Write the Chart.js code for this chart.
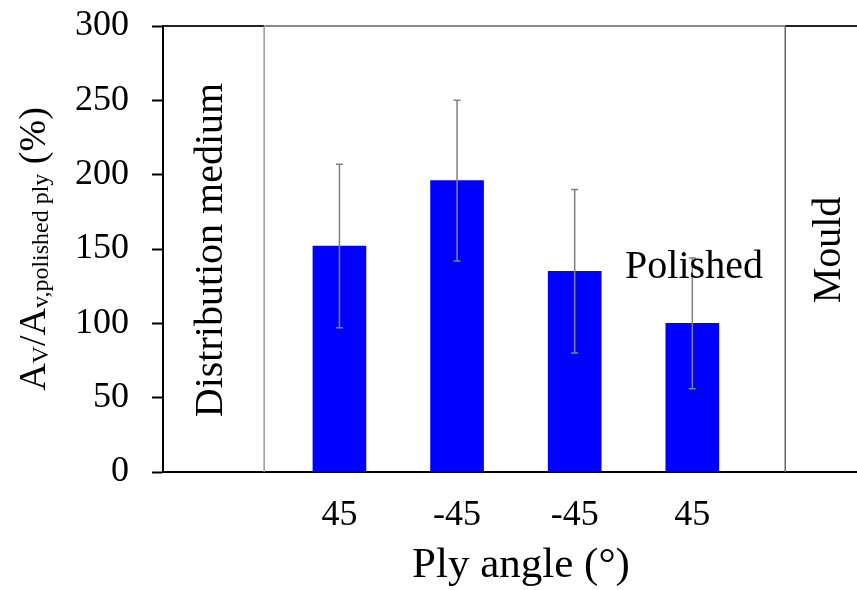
<!DOCTYPE html>
<html><head><meta charset="utf-8">
<script src="https://cdn.jsdelivr.net/npm/chart.js@4.4.0/dist/chart.umd.min.js"></script>
<style>html,body{margin:0;padding:0;background:#fff;overflow:hidden}#wrap{width:857px;height:590px;position:relative}</style>
</head><body><div id="wrap"><canvas id="c" width="857" height="590"></canvas></div>
<script>
// ---- data ----
const categories = ['45', '-45', '-45', '45'];
const positions = [1, 2, 3, 4];
const values = [152, 196, 135, 100];
const errors = [55, 54, 55, 44];
const yTicks = [0, 50, 100, 150, 200, 250, 300];
const regionDividers = [0.36, 4.79];
const regionLabels = ['Distribution medium', 'Polished', 'Mould'];
const xRange = [-0.5, 5.4];

const SERIF = '"Liberation Serif", "Times New Roman", serif';

const errorBars = {
  id: 'errorBars',
  afterDatasetsDraw(chart) {
    const ctx = chart.ctx, ys = chart.scales.y;
    const meta = chart.getDatasetMeta(0);
    ctx.save();
    ctx.strokeStyle = '#808080';
    ctx.lineWidth = 1.5;
    meta.data.forEach((el, i) => {
      const x = el.x;
      const t = ys.getPixelForValue(values[i] + errors[i]);
      const b = ys.getPixelForValue(values[i] - errors[i]);
      ctx.beginPath();
      ctx.moveTo(x, t); ctx.lineTo(x, b);
      ctx.moveTo(x - 3.5, t); ctx.lineTo(x + 3.5, t);
      ctx.moveTo(x - 3.5, b); ctx.lineTo(x + 3.5, b);
      ctx.stroke();
    });
    ctx.restore();
  }
};

const decor = {
  id: 'decor',
  beforeDatasetsDraw(chart) {
    const ctx = chart.ctx, a = chart.chartArea, xs = chart.scales.x;
    const x1 = xs.getPixelForValue(regionDividers[0]);
    const x2 = xs.getPixelForValue(regionDividers[1]);
    ctx.save();
    ctx.lineWidth = 2;
    ctx.strokeStyle = '#222';
    ctx.beginPath(); ctx.moveTo(a.left, a.top); ctx.lineTo(x1, a.top); ctx.stroke();
    ctx.strokeStyle = '#888';
    ctx.beginPath(); ctx.moveTo(x1, a.top); ctx.lineTo(x2, a.top); ctx.stroke();
    ctx.strokeStyle = '#222';
    ctx.beginPath(); ctx.moveTo(x2, a.top); ctx.lineTo(a.right, a.top); ctx.stroke();
    ctx.lineWidth = 1.5;
    ctx.strokeStyle = '#999';
    ctx.beginPath(); ctx.moveTo(x1, a.top); ctx.lineTo(x1, a.bottom); ctx.stroke();
    ctx.strokeStyle = '#666';
    ctx.beginPath(); ctx.moveTo(x2, a.top); ctx.lineTo(x2, a.bottom); ctx.stroke();
    ctx.restore();
  },
  afterDraw(chart) {
    const ctx = chart.ctx, a = chart.chartArea;
    const midY = (a.top + a.bottom) / 2;
    ctx.save();
    ctx.fillStyle = '#000';
    ctx.textBaseline = 'alphabetic';
    ctx.font = '40px ' + SERIF;
    ctx.textAlign = 'center';
    ctx.save(); ctx.translate(222, midY + 1); ctx.rotate(-Math.PI / 2);
    ctx.fillText(regionLabels[0], 0, 0); ctx.restore();
    ctx.fillText(regionLabels[1], 694, 278);
    ctx.save(); ctx.translate(840, midY + 1); ctx.rotate(-Math.PI / 2);
    ctx.fillText(regionLabels[2], 0, 0); ctx.restore();
    ctx.font = '43px ' + SERIF;
    ctx.fillText('Ply angle (\u00B0)', 521, 577);
    const main = '38px ' + SERIF, sub = '24px ' + SERIF;
    const parts = [['A', main, 0], ['V', sub, 3], ['/', main, 0], ['A', main, 0], ['v,polished ply', sub, 3], [' (%)', main, 0]];
    let total = 0;
    parts.forEach(p => { ctx.font = p[1]; total += ctx.measureText(p[0]).width; });
    ctx.translate(45, midY); ctx.rotate(-Math.PI / 2);
    ctx.textAlign = 'left';
    let cx = -total / 2;
    parts.forEach(p => { ctx.font = p[1]; ctx.fillText(p[0], cx, p[2]); cx += ctx.measureText(p[0]).width; });
    ctx.restore();
  }
};

new Chart(document.getElementById('c'), {
  type: 'bar',
  data: {
    datasets: [{
      data: positions.map((p, i) => ({ x: p, y: values[i] })),
      backgroundColor: '#0000FF',
      borderWidth: 0,
      barThickness: 53
    }]
  },
  options: {
    responsive: false,
    devicePixelRatio: 1,
    animation: false,
    layout: { padding: { top: 26, right: 0, bottom: 0, left: 0 } },
    plugins: { legend: { display: false }, tooltip: { enabled: false } },
    scales: {
      x: {
        type: 'linear',
        min: xRange[0], max: xRange[1],
        offset: false,
        afterBuildTicks: s => { s.ticks = positions.map(v => ({ value: v })); },
        afterFit: s => { s.height = 118; s.paddingLeft = 0; s.paddingRight = 0; },
        ticks: {
          autoSkip: false, maxRotation: 0,
          padding: 22, color: '#000',
          font: { family: SERIF, size: 36 },
          callback: (v) => categories[positions.indexOf(v)] ?? ''
        },
        grid: { display: false, drawTicks: false },
        border: { display: true, color: '#000', width: 2 }
      },
      y: {
        min: 0, max: 300,
        afterBuildTicks: s => { s.ticks = yTicks.map(v => ({ value: v })); },
        afterFit: s => { s.width = 163; s.paddingTop = 0; s.paddingBottom = 0; },
        ticks: { padding: 23, color: '#000', font: { family: SERIF, size: 36 } },
        grid: { drawOnChartArea: false, drawTicks: true, tickLength: 11, tickColor: '#000', tickWidth: 2 },
        border: { display: true, color: '#000', width: 2 }
      }
    }
  },
  plugins: [decor, errorBars]
});
</script></body></html>
